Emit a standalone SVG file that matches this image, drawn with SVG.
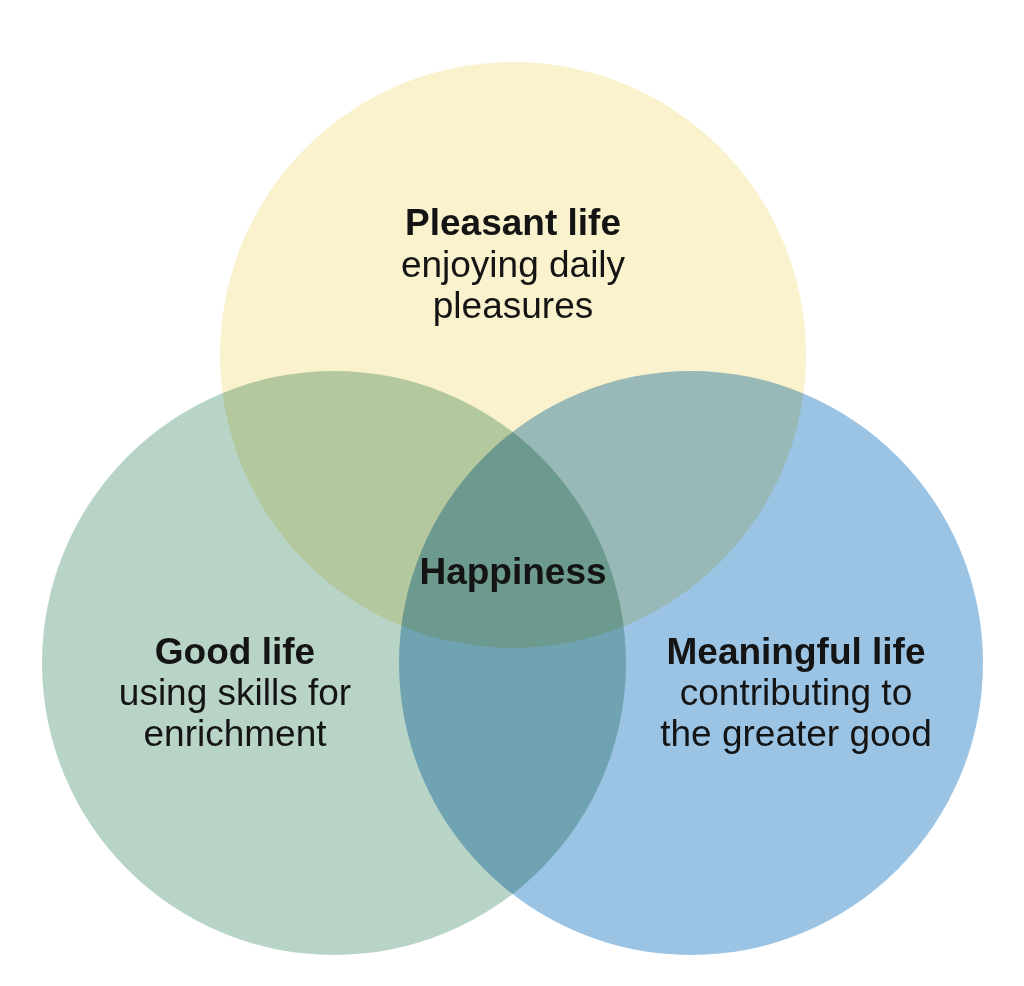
<svg xmlns="http://www.w3.org/2000/svg" width="1024" height="986" viewBox="0 0 1024 986">
<style>
.c{mix-blend-mode:multiply}
text{font-family:"Liberation Sans",Arial,sans-serif;font-size:37px;fill:#141414;text-anchor:middle}
.b{font-weight:bold}
</style>
<rect width="1024" height="986" fill="#fff"/>
<g id="pleasant">
<circle class="c" cx="513" cy="355" r="293" fill="#FAF1CD"/>
</g>
<g id="good">
<circle class="c" cx="334" cy="663" r="292" fill="#B8D4C7"/>
</g>
<g id="meaningful">
<circle class="c" cx="691" cy="663" r="292" fill="#9BC4E4"/>
</g>
<g id="connectors"></g>
<g id="pleasant-label">
<text class="b" x="513" y="235">Pleasant life</text>
<text x="513" y="277">enjoying daily</text>
<text x="513" y="318">pleasures</text>
</g>
<g id="happiness">
<text class="b" x="513" y="584">Happiness</text>
</g>
<g id="good-label">
<text class="b" x="235" y="664">Good life</text>
<text x="235" y="705">using skills for</text>
<text x="235" y="746">enrichment</text>
</g>
<g id="meaningful-label">
<text class="b" x="796" y="664">Meaningful life</text>
<text x="796" y="705">contributing to</text>
<text x="796" y="746">the greater good</text>
</g>
</svg>
